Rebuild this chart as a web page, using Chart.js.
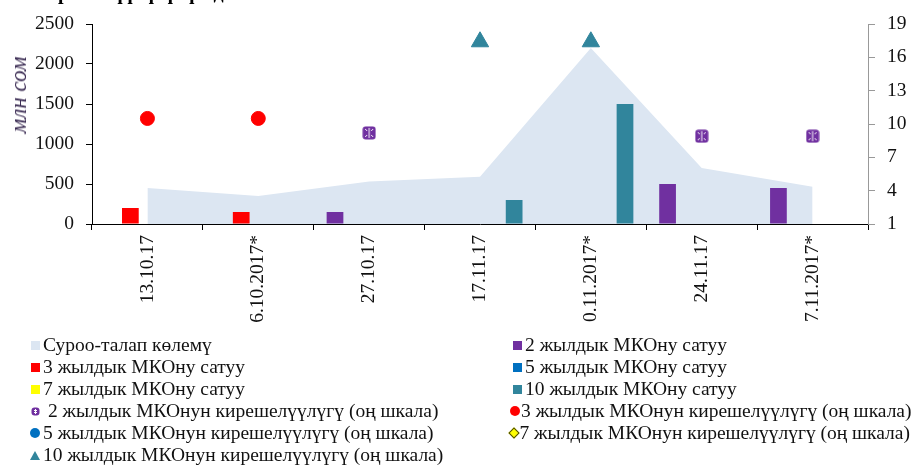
<!DOCTYPE html>
<html>
<head>
<meta charset="utf-8">
<script src="https://cdn.jsdelivr.net/npm/chart.js@4/dist/chart.umd.min.js"></script>
<style>
  body { margin: 0; background: #fff; }
  #wrap { position: relative; width: 918px; height: 465px; overflow: hidden; font-family: "Liberation Serif", serif; }
  #title { position: absolute; left: 35px; top: -19px; font-size: 20px; font-weight: bold; color: #000; white-space: nowrap; }
  #ytitle { position: absolute; left: 19px; top: 95px; transform: translate(-50%, -50%) rotate(-90deg); font-size: 23px; font-style: italic; color: #3d2e55; white-space: nowrap; }
  #legend { position: absolute; left: 28px; top: 334px; display: grid; grid-template-columns: 482px 400px; grid-auto-rows: 22px; font-size: 19.5px; color: #111; }
  .item { display: flex; align-items: center; white-space: nowrap; }
  .mk { width: 14px; height: 14px; display: flex; align-items: center; justify-content: center; margin-right: 1px; }
</style>
</head>
<body>
<div id="wrap">
  <canvas id="myChart" width="918" height="465"></canvas>
  <div id="title">кирешелүүлүгүнүн динамикасы</div>
  <div id="ytitle">млн сом</div>
  <div id="legend"></div>
</div>
<script>
// data
const labels = ['13.10.17', '6.10.2017*', '27.10.17', '17.11.17', '0.11.2017*', '24.11.17', '7.11.2017*'];
const demand = [450, 350, 530, 590, 2200, 700, 465];
const sale2 = [null, null, 150, null, null, 500, 450];
const sale3 = [200, 150, null, null, null, null, null];
const sale5 = [null, null, null, null, null, null, null];
const sale7 = [null, null, null, null, null, null, null];
const sale10 = [null, null, null, 300, 1500, null, null];
const yield2 = [null, null, 9.2, null, null, 8.9, 8.9];
const yield3 = [10.5, 10.5, null, null, null, null, null];
const yield5 = [null, null, null, null, null, null, null];
const yield7 = [null, null, null, null, null, null, null];
const yield10 = [null, null, null, 17.4, 17.4, null, null];
const leftTicks = [0, 500, 1000, 1500, 2000, 2500];
const rightTicks = [1, 4, 7, 10, 13, 16, 19];

// purple patterned marker
function patternMarker(size) {
    const c = document.createElement('canvas');
    c.width = size; c.height = size;
    const g = c.getContext('2d');
    g.fillStyle = '#7030A0';
    g.beginPath();
    g.roundRect(0.5, 0.5, size - 1, size - 1, 3);
    g.fill();
    g.strokeStyle = '#fff';
    g.lineWidth = 1;
    g.beginPath();
    g.moveTo(size / 2, 2); g.lineTo(size / 2, size - 2);
    g.moveTo(3, 3); g.lineTo(5, 5); g.moveTo(size - 3, 3); g.lineTo(size - 5, 5);
    g.moveTo(3, size - 3); g.lineTo(5, size - 5); g.moveTo(size - 3, size - 3); g.lineTo(size - 5, size - 5);
    g.stroke();
    return c;
}
const purpleMark = patternMarker(14);

const font = { family: 'Liberation Serif', size: 19.5 };
const plain = function (v) { return String(v); };

const datasets = [
    { type: 'line', label: 'Суроо-талап көлемү', data: demand, yAxisID: 'y', order: 3,
      fill: 'origin', backgroundColor: '#DCE6F2', borderWidth: 0, pointRadius: 0, tension: 0, mk: 'square' },
    { type: 'bar', label: '2 жылдык МКОну сатуу', data: sale2, backgroundColor: '#7030A0', yAxisID: 'y', order: 2, mk: 'square' },
    { type: 'bar', label: '3 жылдык МКОну сатуу', data: sale3, backgroundColor: '#FF0000', yAxisID: 'y', order: 2, mk: 'square' },
    { type: 'bar', label: '5 жылдык МКОну сатуу', data: sale5, backgroundColor: '#0070C0', yAxisID: 'y', order: 2, mk: 'square' },
    { type: 'bar', label: '7 жылдык МКОну сатуу', data: sale7, backgroundColor: '#FFFF00', yAxisID: 'y', order: 2, mk: 'square' },
    { type: 'bar', label: '10 жылдык МКОну сатуу', data: sale10, backgroundColor: '#31859C', yAxisID: 'y', order: 2, mk: 'square' },
    { type: 'line', label: ' 2 жылдык МКОнун кирешелүүлүгү (оң шкала)', data: yield2, yAxisID: 'y2', order: 1,
      showLine: false, pointStyle: purpleMark, backgroundColor: '#7030A0', mk: 'pattern' },
    { type: 'line', label: '3 жылдык МКОнун кирешелүүлүгү (оң шкала)', data: yield3, yAxisID: 'y2', order: 1,
      showLine: false, pointStyle: 'circle', pointRadius: 7, backgroundColor: '#FF0000', borderColor: '#FF0000', mk: 'circle' },
    { type: 'line', label: '5 жылдык МКОнун кирешелүүлүгү (оң шкала)', data: yield5, yAxisID: 'y2', order: 1,
      showLine: false, pointStyle: 'circle', pointRadius: 6, backgroundColor: '#0070C0', borderColor: '#0070C0', mk: 'circle' },
    { type: 'line', label: '7 жылдык МКОнун кирешелүүлүгү (оң шкала)', data: yield7, yAxisID: 'y2', order: 1,
      showLine: false, pointStyle: 'rectRot', pointRadius: 6, backgroundColor: '#FFFF00', borderColor: '#4d4d00', mk: 'diamond' },
    { type: 'line', label: '10 жылдык МКОнун кирешелүүлүгү (оң шкала)', data: yield10, yAxisID: 'y2', order: 1,
      showLine: false, pointStyle: 'triangle', pointRadius: 10, backgroundColor: '#31859C', borderColor: '#31859C', mk: 'triangle' }
];

new Chart(document.getElementById('myChart'), {
    type: 'bar',
    data: { labels: labels, datasets: datasets },
    options: {
        responsive: false,
        animation: false,
        events: [],
        categoryPercentage: 0.77,
        barPercentage: 0.98,
        layout: { padding: { top: 24, bottom: 141, left: 0, right: 0 } },
        plugins: { legend: { display: false }, tooltip: { enabled: false } },
        scales: {
            x: {
                offset: true,
                grid: { offset: true, drawOnChartArea: false, tickLength: 6, color: '#000' },
                border: { color: '#000' },
                ticks: { minRotation: 90, maxRotation: 90, padding: 5, color: '#111', font: font },
                afterFit: function (s) { s.height = 100; }
            },
            y: {
                position: 'left', min: 0, max: 2500,
                afterBuildTicks: function (s) { s.ticks = leftTicks.map(v => ({ value: v })); },
                grid: { drawOnChartArea: false, tickLength: 6, color: '#000' },
                border: { color: '#000' },
                ticks: { padding: 12, color: '#111', font: font, callback: plain },
                afterFit: function (s) { s.width = 92; }
            },
            y2: {
                position: 'right', min: 1, max: 19,
                afterBuildTicks: function (s) { s.ticks = rightTicks.map(v => ({ value: v })); },
                grid: { drawOnChartArea: false, tickLength: 7, color: '#999' },
                border: { color: '#999' },
                ticks: { padding: 12, color: '#111', font: font, callback: plain },
                afterFit: function (s) { s.width = 50; }
            }
        }
    }
});

// legend in two columns
const legend = document.getElementById('legend');
datasets.forEach(function (ds) {
    const item = document.createElement('div');
    item.className = 'item';
    const mk = document.createElement('span');
    mk.className = 'mk';
    const col = ds.backgroundColor;
    if (ds.mk === 'square') {
        mk.innerHTML = '<span style="width:9px;height:9px;background:' + col + '"></span>';
    } else if (ds.mk === 'circle') {
        mk.innerHTML = '<span style="width:10px;height:10px;border-radius:50%;background:' + col + '"></span>';
    } else if (ds.mk === 'diamond') {
        mk.innerHTML = '<span style="width:6px;height:6px;transform:rotate(45deg);background:' + col + ';border:1px solid ' + ds.borderColor + '"></span>';
    } else if (ds.mk === 'triangle') {
        mk.innerHTML = '<span style="width:0;height:0;border-left:5px solid transparent;border-right:5px solid transparent;border-bottom:9px solid ' + col + '"></span>';
    } else {
        const img = document.createElement('img');
        img.src = patternMarker(9).toDataURL();
        mk.appendChild(img);
    }
    item.appendChild(mk);
    const t = document.createElement('span');
    t.textContent = ds.label;
    t.style.whiteSpace = 'pre';
    item.appendChild(t);
    legend.appendChild(item);
});
</script>
</body>
</html>
